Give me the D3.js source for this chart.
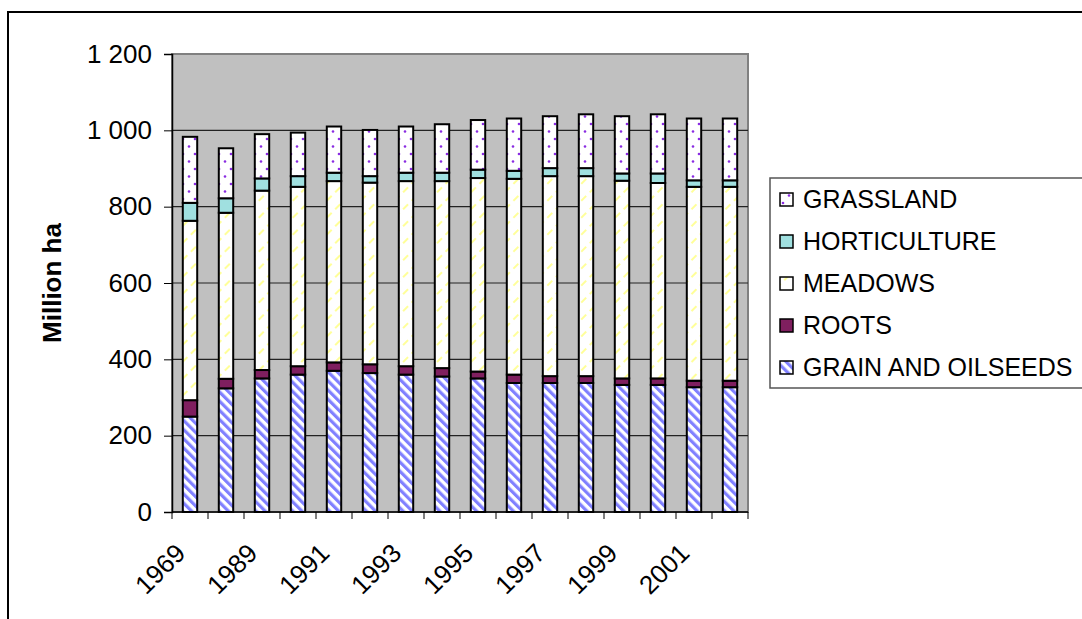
<!DOCTYPE html>
<html>
<head>
<meta charset="utf-8">
<script src="https://cdn.jsdelivr.net/npm/d3@7"></script>
<style>
  body { margin: 0; background: #fff; }
  text { font-family: "Liberation Sans", Arial, sans-serif; }
</style>
</head>
<body>
<script>
'use strict';

// data (million ha)
const years = ['1969', '1988', '1989', '1990', '1991', '1992', '1993', '1994',
  '1995', '1996', '1997', '1998', '1999', '2000', '2001', '2002'];
const grain = [250, 324, 350, 360, 370, 364, 360, 355, 350, 338, 338, 338, 333, 333, 327, 327];
const roots = [43, 25, 22, 22, 22, 23, 22, 22, 18, 22, 18, 18, 17, 17, 17, 17];
const meadows = [470, 435, 470, 470, 475, 476, 485, 490, 507, 513, 524, 524, 518, 512, 508, 508];
const horticulture = [47, 38, 32, 28, 22, 17, 22, 22, 22, 21, 21, 21, 19, 25, 17, 17];
const grassland = [173, 131, 116, 114, 121, 121, 121, 127, 130, 137, 136, 141, 150, 155, 162, 162];
const seriesNames = ['GRAIN AND OILSEEDS', 'ROOTS', 'MEADOWS', 'HORTICULTURE', 'GRASSLAND'];
const yTicks = [0, 200, 400, 600, 800, 1000, 1200];

const width = 1082, height = 619;
const plot = { left: 172, right: 748, top: 54, bottom: 512 };

const svg = d3.select('body').append('svg')
  .attr('width', width)
  .attr('height', height);

// fills / patterns
const defs = svg.append('defs');

let pGrain = defs.append('pattern')
  .attr('id', 'p-grain')
  .attr('patternUnits', 'userSpaceOnUse')
  .attr('width', 6.5).attr('height', 6.5)
  .attr('patternTransform', 'rotate(-45)');
pGrain.append('rect').attr('width', 6.5).attr('height', 6.5).attr('fill', '#fff');
pGrain.append('rect').attr('width', 3.2).attr('height', 6.5).attr('fill', '#8080ff');

let pMeadow = defs.append('pattern')
  .attr('id', 'p-meadow')
  .attr('patternUnits', 'userSpaceOnUse')
  .attr('width', 12).attr('height', 12)
  .attr('patternTransform', 'rotate(45)');
pMeadow.append('rect').attr('width', 12).attr('height', 12).attr('fill', '#fff');
pMeadow.append('rect').attr('width', 2).attr('height', 7).attr('fill', '#ffff99');

let pGrass = defs.append('pattern')
  .attr('id', 'p-grass')
  .attr('patternUnits', 'userSpaceOnUse')
  .attr('width', 12).attr('height', 15);
pGrass.append('rect').attr('width', 12).attr('height', 15).attr('fill', '#fff');
pGrass.append('circle').attr('cx', 3).attr('cy', 4).attr('r', 1.3).attr('fill', '#8a2be2');
pGrass.append('circle').attr('cx', 9).attr('cy', 11.5).attr('r', 1.3).attr('fill', '#8a2be2');

const fills = {
  'GRAIN AND OILSEEDS': 'url(#p-grain)',
  'ROOTS': '#7f1f5f',
  'MEADOWS': 'url(#p-meadow)',
  'HORTICULTURE': '#a0e0e0',
  'GRASSLAND': 'url(#p-grass)'
};

// outer frame
svg.append('rect')
  .attr('x', 8).attr('y', 12)
  .attr('width', width + 10).attr('height', height + 10)
  .attr('fill', 'none')
  .attr('stroke', '#000')
  .attr('stroke-width', 2);

// scales
let x = d3.scaleBand()
  .domain(years)
  .range([plot.left, plot.right])
  .paddingInner(0.6)
  .paddingOuter(0.3);

let y = d3.scaleLinear()
  .domain([0, 1200])
  .range([plot.bottom, plot.top]);

// plot background
svg.append('rect')
  .attr('x', plot.left).attr('y', plot.top)
  .attr('width', plot.right - plot.left)
  .attr('height', plot.bottom - plot.top)
  .attr('fill', '#c0c0c0')
  .attr('stroke', '#808080')
  .attr('stroke-width', 2);

// gridlines
svg.append('g')
  .selectAll('line')
  .data(yTicks.filter((d) => d > 0 && d < 1200))
  .enter()
  .append('line')
    .attr('x1', plot.left).attr('x2', plot.right)
    .attr('y1', (d) => y(d)).attr('y2', (d) => y(d))
    .attr('stroke', '#222')
    .attr('stroke-width', 1.2);

// stacked bars
let rows = years.map((yr, i) => ({
  year: yr,
  'GRAIN AND OILSEEDS': grain[i],
  'ROOTS': roots[i],
  'MEADOWS': meadows[i],
  'HORTICULTURE': horticulture[i],
  'GRASSLAND': grassland[i]
}));
let stacked = d3.stack().keys(seriesNames)(rows);

svg.append('g')
  .selectAll('g')
  .data(stacked)
  .enter()
  .append('g')
    .attr('fill', (s) => fills[s.key])
  .selectAll('rect')
  .data((s) => s)
  .enter()
  .append('rect')
    .attr('x', (d) => x(d.data.year))
    .attr('width', x.bandwidth())
    .attr('y', (d) => y(d[1]))
    .attr('height', (d) => y(d[0]) - y(d[1]))
    .attr('stroke', '#000')
    .attr('stroke-width', 2);

// y axis
let fmt = (d) => d >= 1000 ? Math.floor(d / 1000) + ' ' + d3.format('03d')(d % 1000) : String(d);
let yAxis = d3.axisLeft(y).tickValues(yTicks).tickSize(8).tickPadding(12).tickFormat(fmt);
let gy = svg.append('g')
  .attr('transform', `translate(${plot.left}, 0)`)
  .call(yAxis);
gy.select('.domain').attr('stroke', '#000').attr('stroke-width', 1.5);
gy.selectAll('.tick line').attr('stroke', '#000');
gy.selectAll('.tick text')
  .style('font-size', '26px')
  .attr('fill', '#000');

// x axis: ticks at category boundaries
svg.append('line')
  .attr('x1', plot.left).attr('x2', plot.right)
  .attr('y1', plot.bottom).attr('y2', plot.bottom)
  .attr('stroke', '#000')
  .attr('stroke-width', 1.5);

let step = x.step();
svg.append('g')
  .selectAll('line')
  .data(years.concat(['end']))
  .enter()
  .append('line')
    .attr('x1', (d, i) => plot.left + i * step)
    .attr('x2', (d, i) => plot.left + i * step)
    .attr('y1', plot.bottom).attr('y2', plot.bottom + 7)
    .attr('stroke', '#000');

svg.append('g')
  .selectAll('text')
  .data(years.filter((d, i) => i % 2 === 0))
  .enter()
  .append('text')
    .attr('transform', (d) => `translate(${x(d) + x.bandwidth() / 2 - 16}, ${plot.bottom + 30}) rotate(-45)`)
    .attr('text-anchor', 'end')
    .attr('dy', '0.7em')
    .style('font-size', '26px')
    .text((d) => d);

// y title
svg.append('text')
  .attr('transform', 'translate(61, 283) rotate(-90)')
  .attr('text-anchor', 'middle')
  .style('font-size', '26px')
  .style('font-weight', 'bold')
  .text('Million ha');

// legend
let legend = svg.append('g');
legend.append('rect')
  .attr('x', 770).attr('y', 178)
  .attr('width', 330).attr('height', 210)
  .attr('fill', '#fff')
  .attr('stroke', '#555')
  .attr('stroke-width', 1.5);

let legendOrder = seriesNames.slice().reverse();
let item = legend.selectAll('.item')
  .data(legendOrder)
  .enter()
  .append('g')
    .attr('transform', (d, i) => `translate(780, ${199 + i * 42})`);
item.append('rect')
  .attr('x', 0).attr('y', -6)
  .attr('width', 13).attr('height', 13)
  .attr('fill', (d) => fills[d])
  .attr('stroke', '#000')
  .attr('stroke-width', 1.5);
item.append('text')
  .attr('x', 23)
  .attr('y', 0)
  .attr('dy', '0.35em')
  .style('font-size', '25px')
  .text((d) => d);
</script>
</body>
</html>
